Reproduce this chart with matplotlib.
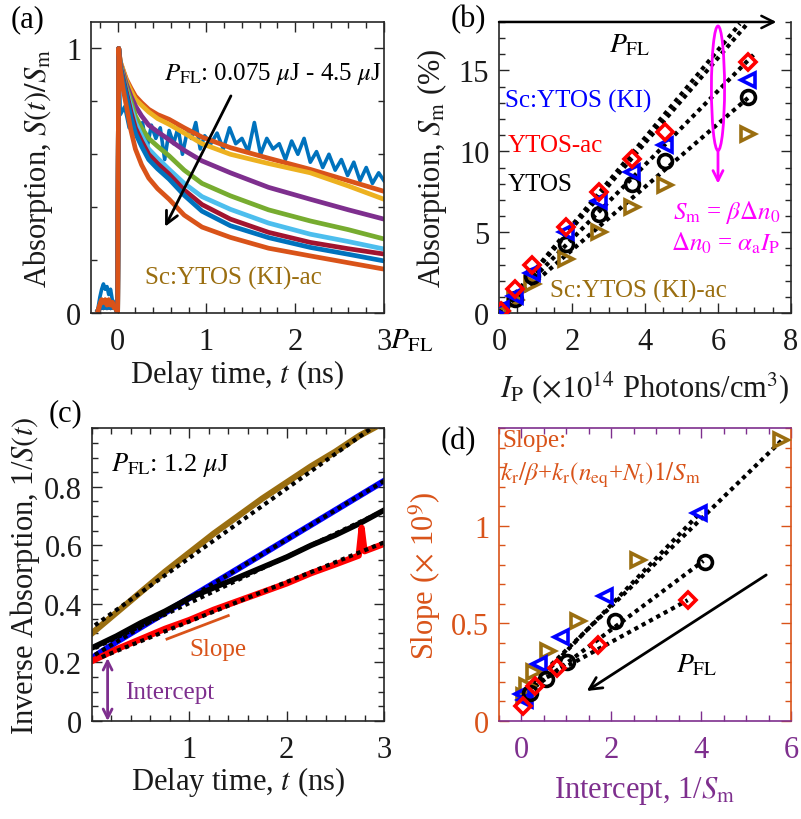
import matplotlib
matplotlib.use('Agg')
import matplotlib.pyplot as plt
from matplotlib.patches import Ellipse
from matplotlib.ticker import MultipleLocator, FixedLocator, FuncFormatter

plt.rcParams['font.family'] = ['Liberation Serif', 'DejaVu Serif']
plt.rcParams['mathtext.fontset'] = 'stix'
plt.rcParams['font.size'] = 22

# ---------------- data: panel (a) ----------------
t_pre = [-0.22, -0.20, -0.18, -0.16, -0.14, -0.12, -0.10, -0.08, -0.06, -0.04, -0.02, 0.0]
pre_blue = [0.02, 0.06, 0.09, 0.11, 0.09, 0.10, 0.07, 0.09, 0.05, 0.04, 0.02, 0.0]
pre_orange = [0.01, 0.03, 0.05, 0.04, 0.05, 0.03, 0.05, 0.03, 0.04, 0.02, 0.02, 0.0]
pre_other = [0.01, 0.02, 0.03, 0.02, 0.03, 0.02, 0.03, 0.02, 0.03, 0.02, 0.02, 0.0]

t_main = [0.012, 0.03, 0.06, 0.1, 0.15, 0.2, 0.27, 0.35, 0.45, 0.58, 0.75, 0.95,
          1.27, 1.7, 2.17, 2.6, 3.0]
dec_orange1 = [1.0, 0.95, 0.92, 0.883, 0.85, 0.82, 0.795, 0.77, 0.75, 0.732, 0.70, 0.665,
               0.625, 0.585, 0.543, 0.50, 0.46]
dec_yellow = [1.0, 0.95, 0.92, 0.877, 0.84, 0.808, 0.785, 0.76, 0.735, 0.713, 0.68, 0.64,
              0.60, 0.565, 0.53, 0.48, 0.43]
dec_purple = [1.0, 0.945, 0.91, 0.864, 0.82, 0.783, 0.745, 0.71, 0.685, 0.655, 0.615, 0.575,
              0.53, 0.475, 0.43, 0.39, 0.355]
dec_green = [1.0, 0.94, 0.90, 0.852, 0.80, 0.745, 0.70, 0.66, 0.63, 0.594, 0.54, 0.49,
             0.443, 0.39, 0.348, 0.315, 0.28]
dec_lightblue = [1.0, 0.935, 0.89, 0.839, 0.78, 0.72, 0.67, 0.62, 0.585, 0.543, 0.49, 0.44,
                 0.392, 0.34, 0.298, 0.27, 0.242]
dec_darkred = [1.0, 0.93, 0.89, 0.833, 0.76, 0.70, 0.65, 0.60, 0.565, 0.525, 0.465, 0.41,
               0.355, 0.305, 0.267, 0.243, 0.223]
dec_blue2 = [1.0, 0.93, 0.88, 0.82, 0.74, 0.68, 0.63, 0.58, 0.545, 0.506, 0.445, 0.385,
             0.33, 0.285, 0.248, 0.222, 0.197]
dec_orange2 = [1.0, 0.92, 0.85, 0.78, 0.69, 0.62, 0.56, 0.51, 0.47, 0.43, 0.37, 0.325,
               0.286, 0.245, 0.216, 0.19, 0.166]

t_blue1 = [0.012, 0.03, 0.08, 0.13, 0.18, 0.23, 0.28, 0.33, 0.38, 0.43, 0.48, 0.53, 0.58,
           0.63, 0.68, 0.73, 0.78, 0.83, 0.88, 0.93, 0.98, 1.05, 1.12, 1.19, 1.26, 1.33,
           1.40, 1.47, 1.54, 1.61, 1.68, 1.75, 1.82, 1.89, 1.96, 2.03, 2.10, 2.17, 2.24,
           2.31, 2.38, 2.45, 2.52, 2.59, 2.66, 2.73, 2.80, 2.87, 2.94, 3.0]
dec_blue1 = [1.0, 0.75, 0.78, 0.70, 0.74, 0.68, 0.72, 0.62, 0.71, 0.66, 0.70, 0.58, 0.69,
             0.64, 0.70, 0.60, 0.68, 0.66, 0.72, 0.62, 0.67, 0.64, 0.68, 0.62, 0.70, 0.64,
             0.66, 0.61, 0.72, 0.60, 0.66, 0.62, 0.64, 0.58, 0.65, 0.60, 0.66, 0.57, 0.61,
             0.55, 0.60, 0.54, 0.58, 0.52, 0.57, 0.50, 0.55, 0.49, 0.53, 0.50]

# ---------------- data: panel (b) ----------------
ip_x = [0.05, 0.45, 0.9, 1.83, 2.74, 3.65, 4.55, 6.82]
sm_ytos_ac = [0.1, 1.5, 2.95, 5.3, 7.5, 9.55, 11.2, 15.5]
sm_sc_ki = [0.25, 1.05, 2.5, 5.0, 6.95, 8.7, 10.4, 14.4]
sm_ytos = [0.2, 0.9, 2.3, 4.3, 6.15, 8.0, 9.38, 13.35]
sm_sc_ki_ac = [0.1, 0.8, 1.8, 3.35, 5.0, 6.55, 7.9, 11.1]
fit_b_slopes = [2.71, 2.63, 2.29, 1.95]
fit_b_xend = [6.6, 6.8, 7.0, 6.82]

# ---------------- data: panel (c) ----------------
t_c = [0.0, 0.25, 0.5, 0.75, 1.0, 1.25, 1.5, 1.75, 2.0, 2.25, 2.5, 2.75, 3.0]
inv_brown = [0.30, 0.37, 0.44, 0.51, 0.575, 0.64, 0.70, 0.76, 0.815, 0.87, 0.92, 0.975, 1.02]
inv_blue = [0.215, 0.27, 0.32, 0.37, 0.42, 0.47, 0.52, 0.57, 0.62, 0.67, 0.72, 0.77, 0.82]
inv_black = [0.25, 0.29, 0.335, 0.375, 0.42, 0.455, 0.49, 0.525, 0.56, 0.60, 0.635, 0.675, 0.72]
t_c_red = [0.0, 0.25, 0.5, 0.75, 1.0, 1.25, 1.5, 1.75, 2.0, 2.25, 2.5, 2.74, 2.77, 2.80, 3.0]
inv_red = [0.205, 0.245, 0.28, 0.315, 0.345, 0.38, 0.41, 0.44, 0.47, 0.505, 0.535, 0.565,
           0.66, 0.58, 0.605]
fit_c_brown = (0.32, 0.237)
fit_c_blue = (0.22, 0.20)
fit_c_black = (0.245, 0.158)
fit_c_red = (0.205, 0.135)

# ---------------- data: panel (d) ----------------
d_brown_x = [0.05, 0.12, 0.28, 0.6, 1.25, 2.6, 5.77]
d_brown_y = [0.13, 0.18, 0.25, 0.36, 0.515, 0.825, 1.44]
d_blue_x = [0.02, 0.08, 0.38, 0.87, 1.85, 3.96]
d_blue_y = [0.14, 0.11, 0.29, 0.43, 0.64, 1.065]
d_black_x = [0.19, 0.55, 1.02, 2.08, 4.08]
d_black_y = [0.146, 0.215, 0.30, 0.51, 0.816]
d_red_x = [0.04, 0.3, 0.78, 1.7, 3.7]
d_red_y = [0.075, 0.18, 0.27, 0.39, 0.62]
fit_d = [(0.14, 0.224, 0.0, 5.8), (0.12, 0.238, 0.0, 4.0),
         (0.124, 0.172, 0.3, 4.05), (0.153, 0.126, 0.4, 3.7)]

# ---------------- colors ----------------
M_BLUE = '#0072BD'; M_ORANGE = '#D95319'; M_YELLOW = '#EDB120'; M_PURPLE = '#7E2F8E'
M_GREEN = '#77AC30'; M_LBLUE = '#4DBEEE'; M_DRED = '#A2142F'
BROWN = '#9A6E10'
SPINE = '#262626'
TXT = '#1a1a1a'
DOT = (0, (1, 1))
FS_IN = 18

fig = plt.figure(figsize=(8.01, 8.20), dpi=100)
axA = fig.add_axes([0.1136, 0.617, 0.3658, 0.355])
axB = fig.add_axes([0.623, 0.617, 0.3645, 0.355])
axC = fig.add_axes([0.1149, 0.1195, 0.3645, 0.357])
axD = fig.add_axes([0.623, 0.1195, 0.3645, 0.357])

fmt = FuncFormatter(lambda v, p: '%g' % v)


def style(ax, top=True, right=True, xpad=10):
    for s in ax.spines.values():
        s.set_linewidth(1.2)
        s.set_color(SPINE)
    ax.tick_params(which='both', direction='in', top=top, right=right, width=1.0,
                   labelsize=22, colors=SPINE, labelcolor=TXT)
    ax.tick_params(axis='x', which='both', pad=xpad)
    ax.tick_params(axis='y', which='both', pad=7)
    ax.tick_params(which='major', length=7)
    ax.tick_params(which='minor', length=4)


def labels(ax, xl, yl, xy, yx, xcol=TXT, ycol=TXT):
    ax.set_xlabel(xl, fontsize=22, color=xcol)
    ax.set_ylabel(yl, fontsize=22, color=ycol)
    ax.xaxis.set_label_coords(0.5, xy)
    ax.xaxis.label.set_va('center')
    ax.yaxis.set_label_coords(yx, 0.5)
    ax.yaxis.label.set_va('center')


# ---------------- panel (a) ----------------
style(axA, xpad=10)
pre_list = [pre_orange, pre_other, pre_other, pre_other, pre_other, pre_other, pre_other, pre_orange]
dec_list = [dec_orange1, dec_yellow, dec_purple, dec_green, dec_lightblue, dec_darkred,
            dec_blue2, dec_orange2]
col_list = [M_ORANGE, M_YELLOW, M_PURPLE, M_GREEN, M_LBLUE, M_DRED, M_BLUE, M_ORANGE]
axA.plot(t_pre + t_blue1, pre_blue + dec_blue1, color=M_BLUE, lw=2.6)
for pre, dec, c in zip(pre_list, dec_list, col_list):
    axA.plot(t_pre + t_main, pre + dec, color=c, lw=3.4)
axA.set_xlim(-0.3, 3)
axA.set_ylim(0, 1.1)
axA.xaxis.set_major_locator(FixedLocator([0, 1, 2, 3]))
axA.xaxis.set_minor_locator(MultipleLocator(0.2))
axA.yaxis.set_major_locator(FixedLocator([0, 1]))
axA.yaxis.set_minor_locator(FixedLocator([0.2, 0.4, 0.6, 0.8]))
axA.yaxis.set_major_formatter(fmt)
axA.xaxis.set_major_formatter(fmt)
labels(axA, 'Delay time, $t$ (ns)', 'Absorption, $S(t)/S_{\\rm m}$', -0.21, -0.181)
axA.text(0.52, 0.885, '$P_{\\rm FL}$: 0.075 $\\mu$J - 4.5 $\\mu$J', fontsize=FS_IN,
         ha='left', va='baseline')
axA.annotate('', xy=(0.52, 0.317), xytext=(1.29, 0.83),
             arrowprops=dict(arrowstyle='->', lw=2, color='k', mutation_scale=22))
axA.text(0.31, 0.135, 'Sc:YTOS (KI)-ac', color=BROWN, fontsize=FS_IN, ha='left', va='center')
axA.text(3.07, -0.1, '$P_{\\rm FL}$', fontsize=21, ha='left', va='center', clip_on=False)

# ---------------- panel (b) ----------------
style(axB, top=False)
axB.spines['top'].set_visible(False)
for sl, xe in zip(fit_b_slopes, fit_b_xend):
    axB.plot([0, xe], [0, sl * xe], color='k', lw=3, linestyle=DOT, zorder=2)
mk = dict(linestyle='none', markerfacecolor='none', markersize=10, markeredgewidth=2.6, zorder=3)
axB.plot(ip_x, sm_sc_ki_ac, marker='>', color=BROWN, **mk)
axB.plot(ip_x, sm_ytos, marker='o', color='k', **mk)
axB.plot(ip_x, sm_sc_ki, marker='<', color='#0000FF', **mk)
axB.plot(ip_x, sm_ytos_ac, marker='D', color='#FF0000', **dict(mk, markersize=8.5))
axB.set_xlim(0, 8)
axB.set_ylim(0, 18)
axB.xaxis.set_major_locator(FixedLocator([0, 2, 4, 6, 8]))
axB.xaxis.set_minor_locator(MultipleLocator(0.5))
axB.yaxis.set_major_locator(FixedLocator([0, 5, 10, 15]))
axB.yaxis.set_minor_locator(MultipleLocator(1))
axB.xaxis.set_major_formatter(fmt)
axB.yaxis.set_major_formatter(fmt)
labels(axB, '$I_{\\rm P}$ ($\\times 10^{14}$ Photons/cm$^3$)', 'Absorption, $S_{\\rm m}$ (%)',
       -0.255, -0.229)
axB.annotate('', xy=(7.6, 18), xytext=(0, 18), annotation_clip=False,
             arrowprops=dict(arrowstyle='->', lw=1.8, color='k', mutation_scale=22,
                             shrinkA=0, shrinkB=0))
axB.text(3.0, 16.6, '$P_{\\rm FL}$', fontsize=20, ha='left', va='center')
axB.add_patch(Ellipse((6.0, 13.9), 0.36, 7.7, facecolor='none', edgecolor='#FF00FF', lw=2,
                      zorder=4))
axB.annotate('', xy=(6.0, 8.0), xytext=(6.0, 10.05),
             arrowprops=dict(arrowstyle='->', lw=2, color='#FF00FF', mutation_scale=18,
                             shrinkA=0, shrinkB=0))
axB.text(0.16, 13.16, 'Sc:YTOS (KI)', color='#0000FF', fontsize=FS_IN, ha='left', va='center')
axB.text(0.25, 10.37, 'YTOS-ac', color='#FF0000', fontsize=FS_IN, ha='left', va='center')
axB.text(0.25, 8.0, 'YTOS', color='k', fontsize=FS_IN, ha='left', va='center')
axB.text(1.39, 1.38, 'Sc:YTOS (KI)-ac', color=BROWN, fontsize=FS_IN, ha='left', va='center')
axB.text(6.24, 6.25, '$S_{\\rm m}$ = $\\beta\\Delta n_0$', color='#FF00FF', fontsize=FS_IN,
         ha='center', va='center')
axB.text(6.2, 4.4, '$\\Delta n_0$ = $\\alpha_{\\rm a}I_{\\rm P}$', color='#FF00FF',
         fontsize=FS_IN, ha='center', va='center')

# ---------------- panel (c) ----------------
style(axC)
axC.plot(t_c, inv_brown, color=BROWN, lw=4.5)
axC.plot(t_c, inv_blue, color='#0000FF', lw=4.5)
axC.plot(t_c, inv_black, color='k', lw=4.0)
axC.plot(t_c_red, inv_red, color='#FF0000', lw=4.5)
for (a0, b0), x0 in zip([fit_c_brown, fit_c_blue, fit_c_black, fit_c_red], [0.03, 0.03, 0.03, 0.1]):
    axC.plot([x0, 3.0], [a0 + b0 * x0, a0 + b0 * 3.0], color='k', lw=3, linestyle=DOT)
axC.set_xlim(0, 3)
axC.set_ylim(0, 1.0)
axC.xaxis.set_major_locator(FixedLocator([1, 2, 3]))
axC.xaxis.set_minor_locator(MultipleLocator(0.2))
axC.yaxis.set_major_locator(FixedLocator([0, 0.2, 0.4, 0.6, 0.8]))
axC.yaxis.set_minor_locator(MultipleLocator(0.05))
axC.xaxis.set_major_formatter(fmt)
axC.yaxis.set_major_formatter(fmt)
labels(axC, 'Delay time, $t$ (ns)', 'Inverse Absorption, 1/$S(t)$', -0.205, -0.229)
axC.text(0.2, 0.877, '$P_{\\rm FL}$: 1.2 $\\mu$J', fontsize=19, ha='left', va='center')
axC.plot([0.77, 1.40], [0.28, 0.36], color=M_ORANGE, lw=2)
axC.text(1.29, 0.247, 'Slope', color=M_ORANGE, fontsize=FS_IN, ha='center', va='center')
axC.annotate('', xy=(0.16, 0.0), xytext=(0.16, 0.215),
             arrowprops=dict(arrowstyle='<->', lw=2, color=M_PURPLE, mutation_scale=16,
                             shrinkA=0, shrinkB=0))
axC.text(0.34, 0.1, 'Intercept', color=M_PURPLE, fontsize=FS_IN, ha='left', va='center')

# ---------------- panel (d) ----------------
for s in ['left', 'right']:
    axD.spines[s].set_color(M_ORANGE)
    axD.spines[s].set_linewidth(1.2)
for s in ['top', 'bottom']:
    axD.spines[s].set_color(M_PURPLE)
    axD.spines[s].set_linewidth(1.2)
axD.tick_params(which='both', direction='in', top=True, right=True, width=1.0, labelsize=22)
axD.tick_params(axis='x', which='both', pad=10, colors=M_PURPLE)
axD.tick_params(axis='y', which='both', pad=7, colors=M_ORANGE)
axD.tick_params(which='major', length=7)
axD.tick_params(which='minor', length=4)
for a0, b0, x0, x1 in fit_d:
    axD.plot([x0, x1], [a0 + b0 * x0, a0 + b0 * x1], color='k', lw=3, linestyle=DOT, zorder=2)
axD.plot(d_brown_x, d_brown_y, marker='>', color=BROWN, **mk)
axD.plot(d_blue_x, d_blue_y, marker='<', color='#0000FF', **mk)
axD.plot(d_black_x, d_black_y, marker='o', color='k', **mk)
axD.plot(d_red_x, d_red_y, marker='D', color='#FF0000', **dict(mk, markersize=8.5))
axD.set_xlim(-0.5, 6)
axD.set_ylim(0, 1.5)
axD.xaxis.set_major_locator(FixedLocator([0, 2, 4, 6]))
axD.xaxis.set_minor_locator(MultipleLocator(0.5))
axD.yaxis.set_major_locator(FixedLocator([0, 0.5, 1]))
axD.yaxis.set_minor_locator(MultipleLocator(0.1))
axD.xaxis.set_major_formatter(fmt)
axD.yaxis.set_major_formatter(fmt)
labels(axD, 'Intercept, 1/$S_{\\rm m}$', 'Slope ($\\times$ 10$^9$)', -0.235, -0.253,
       xcol=M_PURPLE, ycol=M_ORANGE)
axD.text(-0.42, 1.44, 'Slope:', color=M_ORANGE, fontsize=FS_IN, ha='left', va='center')
axD.text(-0.48, 1.265, '$k_{\\rm r}/\\beta$+$k_{\\rm r}(n_{\\rm eq}$+$N_{\\rm t})1/S_{\\rm m}$',
         color=M_ORANGE, fontsize=FS_IN, ha='left', va='center')
axD.annotate('', xy=(1.4, 0.146), xytext=(5.5, 0.756),
             arrowprops=dict(arrowstyle='->', lw=2, color='k', mutation_scale=22))
axD.text(3.44, 0.29, '$P_{\\rm FL}$', fontsize=20, ha='left', va='center')

# panel labels
fig.text(28 / 801, 1 - 20 / 820, '(a)', fontsize=22, ha='center', va='center')
fig.text(468 / 801, 1 - 20 / 820, '(b)', fontsize=22, ha='center', va='center')
fig.text(66 / 801, 1 - 414 / 820, '(c)', fontsize=22, ha='center', va='center')
fig.text(458 / 801, 1 - 442 / 820, '(d)', fontsize=22, ha='center', va='center')

fig.savefig('out.png', dpi=100)
